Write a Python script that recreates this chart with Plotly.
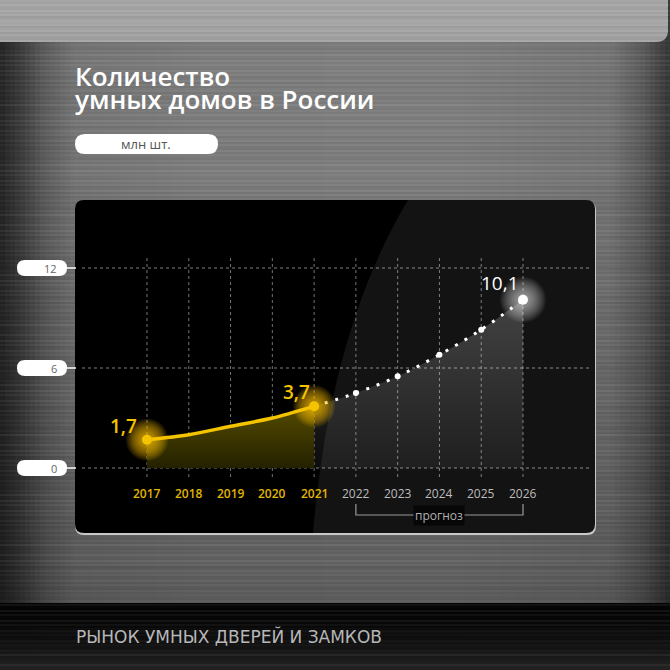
import numpy as np
import plotly.graph_objects as go

# data (млн шт.)
years_fact = [2017, 2018, 2019, 2020, 2021]
values_fact = [1.7, 2.0, 2.5, 3.0, 3.7]
years_forecast = [2021, 2022, 2023, 2024, 2025, 2026]
values_forecast = [3.7, 4.5, 5.5, 6.8, 8.3, 10.1]
all_years = [2017, 2018, 2019, 2020, 2021, 2022, 2023, 2024, 2025, 2026]
y_ticks = [0, 6, 12]

title_lines = ["Количество", "умных домов в России"]
unit_label = "млн шт."
forecast_label = "прогноз"
footer = "РЫНОК УМНЫХ ДВЕРЕЙ И ЗАМКОВ"

W = H = 670
YELLOW = "#f5c400"

def px(x):
    return x / W

def py(y):
    return 1 - y / H

def rrect(x0, y0, x1, y1, r):
    # rounded rectangle path in paper coords, input in pixels
    return (f"M {px(x0+r)},{py(y0)} L {px(x1-r)},{py(y0)} "
            f"Q {px(x1)},{py(y0)} {px(x1)},{py(y0+r)} L {px(x1)},{py(y1-r)} "
            f"Q {px(x1)},{py(y1)} {px(x1-r)},{py(y1)} L {px(x0+r)},{py(y1)} "
            f"Q {px(x0)},{py(y1)} {px(x0)},{py(y1-r)} L {px(x0)},{py(y0+r)} "
            f"Q {px(x0)},{py(y0)} {px(x0+r)},{py(y0)} Z")

def fmt(v):
    return f"{v:.1f}".replace(".", ",")

shapes = []

#brushed metal background - horizontal gradient
stops_x = [0, 20, 45, 75, 200, 450, 610, 645, 670]
stops_g = [38, 60, 95, 118, 126, 128, 118, 90, 55]
n = 134
for i in range(n):
    x0 = W * i / n
    x1 = W * (i + 1) / n
    g = int(np.interp((x0 + x1) / 2, stops_x, stops_g))
    shapes.append(dict(type="rect", xref="paper", yref="paper", x0=px(x0), x1=px(x1) + 0.001,
                       y0=0, y1=1, fillcolor=f"rgb({g},{g},{g})", line_width=0, layer="below"))

#darker toward bottom
for i in range(20):
    y0 = 150 + i * 23
    a = 0.013 * i
    shapes.append(dict(type="rect", xref="paper", yref="paper", x0=0, x1=1,
                       y0=py(y0 + 23), y1=py(y0), fillcolor=f"rgba(0,0,0,{a:.3f})",
                       line_width=0, layer="below"))

#top light strip
shapes.append(dict(type="path", xref="paper", yref="paper", path=rrect(-20, -20, 668, 42, 12),
                   fillcolor="#a6a6a6", line_width=0, layer="below"))

#bottom black band
for i in range(16):
    y0 = 603 + i * 67 / 16
    g = int(5 + 30 * (i / 15) ** 1.6)
    shapes.append(dict(type="rect", xref="paper", yref="paper", x0=0, x1=1,
                       y0=py(y0 + 67 / 16 + 0.5), y1=py(y0), fillcolor=f"rgb({g},{g},{g})",
                       line_width=0, layer="below"))

#streaks
for k, y in enumerate(range(1, 670, 2)):
    a = 0.02 + 0.1 * ((k * 37) % 11) / 10
    col = "255,255,255" if (k * 13) % 5 < 2 else "0,0,0"
    shapes.append(dict(type="line", xref="paper", yref="paper", x0=0, x1=1, y0=py(y), y1=py(y),
                       line=dict(color=f"rgba({col},{a:.3f})", width=1), layer="below"))

#chart panel
shapes.append(dict(type="path", xref="paper", yref="paper", path=rrect(75, 201, 596, 535, 9),
                   fillcolor="#c8c8c8", line_width=0, layer="below"))
shapes.append(dict(type="path", xref="paper", yref="paper", path=rrect(75, 200, 595, 533, 9),
                   fillcolor="#000000", line_width=0, layer="below"))
#light sweep on the right
sweep = (f"M {px(408)},{py(200)} Q {px(330)},{py(330)} {px(313)},{py(533)} "
         f"L {px(586)},{py(533)} Q {px(595)},{py(533)} {px(595)},{py(524)} "
         f"L {px(595)},{py(209)} Q {px(595)},{py(200)} {px(586)},{py(200)} Z")
shapes.append(dict(type="path", xref="paper", yref="paper", path=sweep,
                   fillcolor="rgba(255,255,255,0.075)", line_width=0, layer="below"))

#grid
for t in y_ticks:
    shapes.append(dict(type="line", xref="paper", yref="y", x0=px(82), x1=px(590), y0=t, y1=t,
                       line=dict(color="rgba(255,255,255,0.5)", width=1, dash="dot"), layer="below"))
    #pill for the tick label
    shapes.append(dict(type="path", xref="paper", yref="y", ysizemode="pixel", yanchor=t,
                       path=(f"M {px(25)},8 L {px(59)},8 Q {px(67)},8 {px(67)},0 Q {px(67)},-8 {px(59)},-8 "
                             f"L {px(25)},-8 Q {px(17)},-8 {px(17)},0 Q {px(17)},8 {px(25)},8 Z"),
                       fillcolor="white", line_width=0, layer="below"))
    shapes.append(dict(type="line", xref="paper", yref="y", x0=px(66), x1=px(76), y0=t, y1=t,
                       line=dict(color="white", width=1.5), layer="below"))
for yr in all_years:
    shapes.append(dict(type="line", xref="x", yref="paper", x0=yr, x1=yr, y0=py(477), y1=py(258),
                       line=dict(color="rgba(255,255,255,0.45)", width=1, dash="dot"), layer="below"))

#unit pill
shapes.append(dict(type="path", xref="paper", yref="paper", path=rrect(75, 134, 218, 154, 10),
                   fillcolor="white", line_width=0, layer="below"))

#forecast bracket
shapes.append(dict(type="path", xref="x", yref="paper",
                   path=(f"M {years_forecast[1]},{py(504)} L {years_forecast[1]},{py(515)} "
                         f"L {years_forecast[-1]},{py(515)} L {years_forecast[-1]},{py(504)}"),
                   line=dict(color="#9a9a9a", width=1.2), layer="below"))

fig = go.Figure()

#forecast area + dotted line
fig.add_trace(go.Scatter(
    x=years_forecast, y=values_forecast, mode="lines", fill="tozeroy",
    fillgradient=dict(type="vertical", colorscale=[[0, "rgba(255,255,255,0.05)"], [1, "rgba(255,255,255,0.2)"]]),
    line=dict(color="white", width=3, shape="spline", dash="3px,8px"),
    hoverinfo="skip"))
fig.add_trace(go.Scatter(x=years_forecast[1:-1], y=values_forecast[1:-1], mode="markers",
                         marker=dict(color="white", size=6), hoverinfo="skip"))

#glow at the last forecast point
for s in range(46, 10, -3):
    fig.add_trace(go.Scatter(x=years_forecast[-1:], y=values_forecast[-1:], mode="markers",
                             marker=dict(color="rgba(255,255,255,0.06)", size=s, line_width=0),
                             hoverinfo="skip"))
fig.add_trace(go.Scatter(x=years_forecast[-1:], y=values_forecast[-1:], mode="markers",
                         marker=dict(color="white", size=10), hoverinfo="skip"))

#actual area + line
fig.add_trace(go.Scatter(
    x=years_fact, y=values_fact, mode="lines", fill="tozeroy",
    fillgradient=dict(type="vertical", colorscale=[[0, "#242100"], [1, "#554b00"]]),
    line=dict(color=YELLOW, width=3.5, shape="spline", smoothing=0.8), hoverinfo="skip"))

ends_x = [years_fact[0], years_fact[-1]]
ends_y = [values_fact[0], values_fact[-1]]
for s in range(42, 10, -3):
    fig.add_trace(go.Scatter(x=ends_x, y=ends_y, mode="markers",
                             marker=dict(color="rgba(255,200,0,0.1)", size=s, line_width=0),
                             hoverinfo="skip"))
fig.add_trace(go.Scatter(x=ends_x, y=ends_y, mode="markers",
                         marker=dict(color=YELLOW, size=10), hoverinfo="skip"))

annotations = []
#title
annotations.append(dict(text=title_lines[0], xref="paper", yref="paper", x=px(73), y=py(76.5),
                        xanchor="left", yanchor="middle", showarrow=False,
                        font=dict(family="Open Sans", size=26, color="white", weight=600)))
annotations.append(dict(text=title_lines[1], xref="paper", yref="paper", x=px(73), y=py(98.5),
                        xanchor="left", yanchor="middle", showarrow=False,
                        font=dict(family="Open Sans", size=26, color="white", weight=600)))
annotations.append(dict(text=unit_label, xref="paper", yref="paper", x=px(146), y=py(144),
                        xanchor="center", yanchor="middle", showarrow=False,
                        font=dict(family="Open Sans", size=13, color="#555555")))

#y tick labels
for t in y_ticks:
    annotations.append(dict(text=str(t), xref="paper", yref="y", x=px(59), y=t,
                            xanchor="right", yanchor="middle", showarrow=False,
                            font=dict(family="Open Sans", size=11, color="#666666")))

#x tick labels
for yr in all_years:
    fact = yr in years_fact
    annotations.append(dict(text=str(yr), xref="x", yref="y", x=yr, y=0, yshift=-25,
                            xanchor="center", yanchor="middle", showarrow=False,
                            font=dict(family="Open Sans", size=12,
                                      color="#e2b600" if fact else "#bdbdbd",
                                      weight=600 if fact else 400)))

annotations.append(dict(text=forecast_label, xref="x", yref="paper",
                        x=(years_forecast[1] + years_forecast[-1]) / 2, y=py(515),
                        xanchor="center", yanchor="middle", showarrow=False, bgcolor="#070707",
                        borderpad=1, font=dict(family="Open Sans", size=12, color="#b0b0b0")))

#value labels
annotations.append(dict(text=fmt(values_fact[0]), x=years_fact[0], y=values_fact[0],
                        xshift=-23, yshift=14, showarrow=False,
                        font=dict(family="Open Sans", size=19, color=YELLOW, weight=600)))
annotations.append(dict(text=fmt(values_fact[-1]), x=years_fact[-1], y=values_fact[-1],
                        xshift=-18, yshift=14, showarrow=False,
                        font=dict(family="Open Sans", size=19, color=YELLOW, weight=600)))
annotations.append(dict(text=fmt(values_forecast[-1]), x=years_forecast[-1], y=values_forecast[-1],
                        xshift=-23, yshift=17, showarrow=False,
                        font=dict(family="Open Sans", size=19, color="white")))

#footer
annotations.append(dict(text=footer, xref="paper", yref="paper", x=px(74), y=py(636),
                        xanchor="left", yanchor="middle", showarrow=False,
                        font=dict(family="DejaVu Sans", size=17, color="#b8b8b8")))

fig.update_layout(
    width=W, height=H, margin=dict(l=0, r=0, t=0, b=0),
    paper_bgcolor="#6e6e6e", plot_bgcolor="rgba(0,0,0,0)",
    showlegend=False, shapes=shapes, annotations=annotations,
    xaxis=dict(domain=[75 / W, 595 / W], range=[2015.277, 2027.723], visible=False, fixedrange=True),
    yaxis=dict(domain=[137 / H, 470 / H], range=[-3.9, 16.08], visible=False, fixedrange=True),
)

#page body has a default margin, drop it so the figure fills the window
fig.write_html("out.html", config={"displayModeBar": False},
               post_script="document.body.style.margin='0';")
